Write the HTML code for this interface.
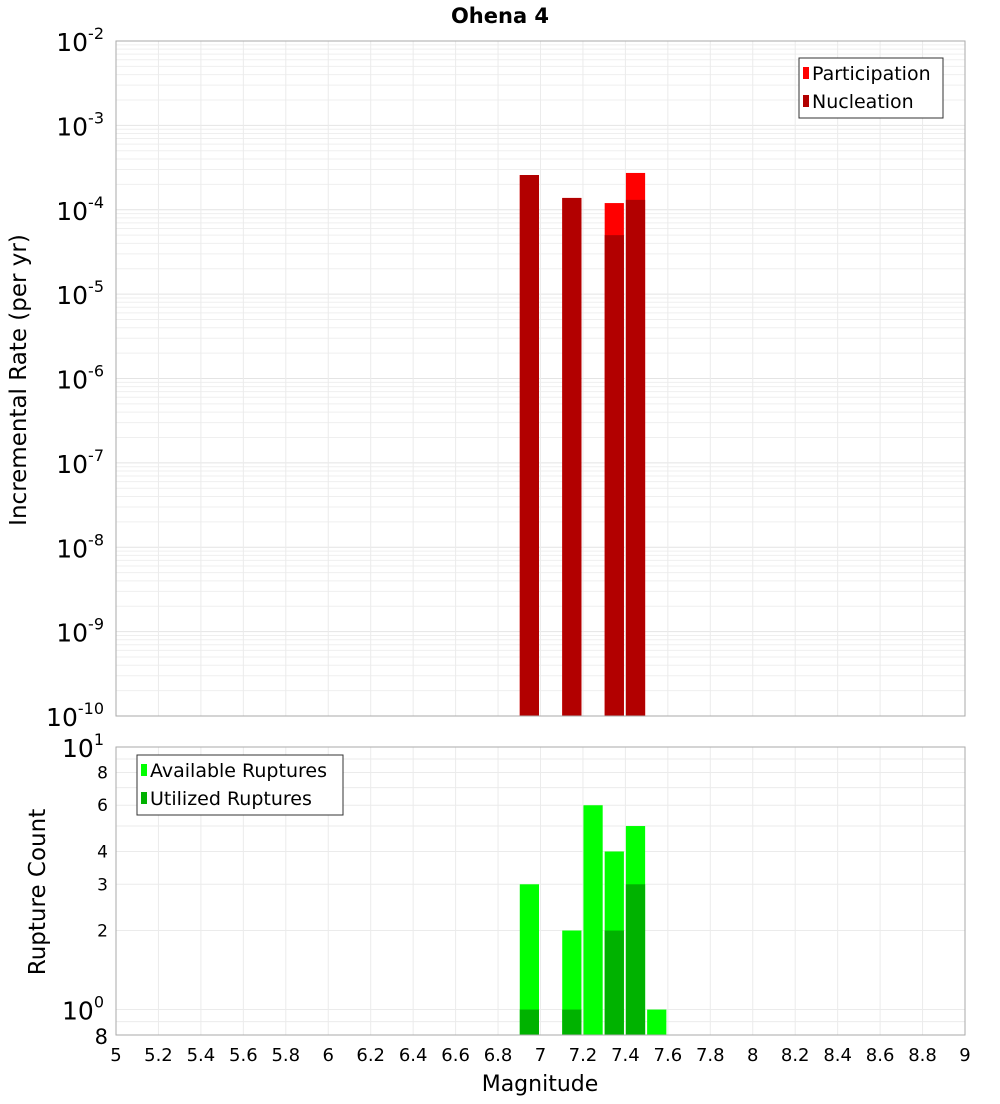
<!DOCTYPE html>
<html><head><meta charset="utf-8"><style>
body{margin:0;background:#fff;font-family:"DejaVu Sans","Liberation Sans",sans-serif}
svg text{font-family:"DejaVu Sans","Liberation Sans",sans-serif}
</style></head><body>
<svg id="c" width="1000" height="1100" xmlns="http://www.w3.org/2000/svg">
<text x="500" y="23" text-anchor="middle" font-size="21" font-weight="bold">Ohena 4</text>
<text transform="translate(26,380) rotate(-90)" text-anchor="middle" font-size="23">Incremental Rate (per yr)</text>
<text transform="translate(45,892) rotate(-90)" text-anchor="middle" font-size="23">Rupture Count</text>
<text x="540" y="1091" text-anchor="middle" font-size="22">Magnitude</text>
</svg>
<script>
const svg=document.getElementById('c');const NS='http://www.w3.org/2000/svg';
const mags=[6.95,7.15,7.35,7.45];
const participation=[2.58e-4,1.38e-4,1.2e-4,2.73e-4];
const nucleation=[2.58e-4,1.38e-4,5.0e-5,1.31e-4];
const countMags=[6.95,7.15,7.25,7.35,7.45,7.55];
const available=[3,2,6,4,5,1];
const utilized=[1,1,0,2,3,0];
const xTicks=[5,5.2,5.4,5.6,5.8,6,6.2,6.4,6.6,6.8,7,7.2,7.4,7.6,7.8,8,8.2,8.4,8.6,8.8,9];
const topExps=[-2,-3,-4,-5,-6,-7,-8,-9,-10];
const botTicks=[8,6,4,3,2];
const X0=116,X1=965,T0=41,T1=716,B0=747,B1=1035;
const x=m=>X0+(m-5)/4*(X1-X0);
const yt=v=>T0+(-2-Math.log10(v))/8*(T1-T0);
const yb=v=>B0+(1-Math.log10(v))/(1-Math.log10(0.8))*(B1-B0);
function el(t,a,p){const e=document.createElementNS(NS,t);for(const k in a)e.setAttribute(k,a[k]);(p||svg).appendChild(e);return e;}
for(let d=-10;d<-2;d++)for(let k=1;k<10;k++){const yy=yt(k*Math.pow(10,d));const g=el('line',{x1:X0,x2:X1,y1:yy,y2:yy,stroke:k==1?'#e4e4e4':'#efefef','stroke-width':1});

}
for(const t of xTicks){const g=el('line',{x1:x(t),x2:x(t),y1:T0,y2:T1,stroke:'#ebebeb'});


const h=el('line',{x1:x(t),x2:x(t),y1:B0,y2:B1,stroke:'#ebebeb'});


const tx=el('text',{x:x(t),y:1061,'text-anchor':'middle','font-size':18});tx.textContent=String(t);

}
for(let d=-1;d<1;d++)for(let k=1;k<10;k++){const v=k*Math.pow(10,d);if(v<0.8)continue;const yy=yb(v);const g=el('line',{x1:X0,x2:X1,y1:yy,y2:yy,stroke:'#ebebeb'});

}
mags.forEach((m,i)=>{const a=x(m-0.05)+0.5,w=x(m+0.05)-x(m-0.05)-2;
const p=el('rect',{x:a,y:yt(participation[i]),width:w,height:T1-yt(participation[i]),fill:'#ff0000'});


const n=el('rect',{x:a,y:yt(nucleation[i]),width:w,height:T1-yt(nucleation[i]),fill:'#b20000'});

});
countMags.forEach((m,i)=>{const a=x(m-0.05)+0.5,w=x(m+0.05)-x(m-0.05)-2;
const p=el('rect',{x:a,y:yb(available[i]),width:w,height:B1-yb(available[i]),fill:'#00ff00'});


if(utilized[i]>0){const n=el('rect',{x:a,y:yb(utilized[i]),width:w,height:B1-yb(utilized[i]),fill:'#00b200'});

}});
const f1=el('rect',{x:X0,y:T0,width:X1-X0,height:T1-T0,fill:'none',stroke:'#aaa'});


const f2=el('rect',{x:X0,y:B0,width:X1-X0,height:B1-B0,fill:'none',stroke:'#aaa'});


topExps.forEach(e=>{const yy=yt(Math.pow(10,e));const t=el('text',{x:104,y:yy+10,'text-anchor':'end','font-size':25});
t.innerHTML='10<tspan dy="-12" font-size="16">'+e+'</tspan>';

});
[[10,'1'],[1,'0']].forEach(([v,e])=>{const t=el('text',{x:104,y:yb(v)+10,'text-anchor':'end','font-size':25});
t.innerHTML='10<tspan dy="-12" font-size="16">'+e+'</tspan>';

});
botTicks.forEach(v=>{const t=el('text',{x:108,y:yb(v)+6,'text-anchor':'end','font-size':17});t.textContent=v;

});
const t8=el('text',{x:108,y:B1+9,'text-anchor':'end','font-size':21});t8.textContent='8';


function legend(x0,y0,w,items,name){const g=el('g',{});
el('rect',{x:x0,y:y0,width:w,height:items.length*28+4,fill:'#fff',stroke:'#333'},g);
items.forEach(([c,l],i)=>{el('rect',{x:x0+4,y:y0+9+i*28,width:6,height:12,fill:c},g);const t=el('text',{x:x0+13,y:y0+22+i*28,'font-size':19},g);t.textContent=l;});}
legend(799,58,144,[['#ff0000','Participation'],['#b20000','Nucleation']],'top-legend');
legend(137,755,206,[['#00ff00','Available Ruptures'],['#00b200','Utilized Ruptures']],'bottom-legend');
</script>
</body></html>
